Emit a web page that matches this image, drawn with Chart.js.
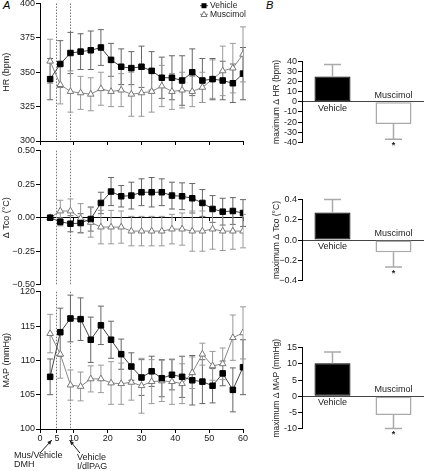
<!DOCTYPE html>
<html>
<head>
<meta charset="utf-8">
<script src="https://cdn.jsdelivr.net/npm/chart.js@4/dist/chart.umd.min.js"></script>
<style>
body { margin:0; background:#fff; width:424px; height:471px; position:relative; overflow:hidden; font-family:"Liberation Sans", Arial, sans-serif; }
canvas { position:absolute; }
.panel { position:absolute; font-style:italic; font-size:11px; color:#000; }
</style>
</head>
<body>
<div class="panel" style="left:3px;top:-1px">A</div>
<div class="panel" style="left:266px;top:-1px">B</div>
<canvas id="hr" width="250" height="154" style="left:0;top:-4px"></canvas>
<canvas id="tco" width="250" height="151" style="left:0;top:144px"></canvas>
<canvas id="map" width="250" height="186" style="left:0;top:285px"></canvas>
<canvas id="hrBar" width="154" height="98" style="left:270px;top:55px"></canvas>
<canvas id="tcoBar" width="154" height="97" style="left:270px;top:193px"></canvas>
<canvas id="mapBar" width="154" height="115" style="left:270px;top:330px"></canvas>
<script>
// ---- data ----
const times = [3,6,9,12,15,18,21,24,27,30,33,36,39,42,45,48,51,54,57,60];
const injectionTimes = [4.8, 9];
const mapXTicks = [0,5,10,20,30,40,50,60];
const hrYTicks  = [300,325,350,375,400];
const tcoYTicks = [-0.5,-0.25,0,0.25,0.5];
const mapYTicks = [100,105,110,115,120];

const hrVehicle     = [345,356,364,365,366,368,359,354,353,354,351,346,346,344,350,344,345,344,342,349];
const hrVehicleErr  = [15,17,15,13,14,13,12,13,12,15,14,15,16,18,17,16,15,14,14,19];
const hrMuscimol    = [358,341,336,335,334,338,336,337,334,335,336,340,336,337,336,339,345,351,353,363];
const hrMuscimolErr = [16,14,15,12,12,12,11,12,16,17,15,15,13,13,11,11,14,18,18,20];

const tcoVehicle     = [0,-0.03,-0.045,-0.04,-0.01,0.11,0.195,0.16,0.165,0.19,0.19,0.19,0.165,0.16,0.145,0.11,0.065,0.045,0.05,0.035];
const tcoVehicleErr  = [0,0.03,0.06,0.07,0.09,0.08,0.105,0.08,0.1,0.1,0.11,0.1,0.1,0.1,0.11,0.1,0.1,0.1,0.1,0.1];
const tcoMuscimol    = [0,0.05,0.05,-0.005,-0.035,-0.07,-0.07,-0.07,-0.1,-0.1,-0.1,-0.1,-0.085,-0.085,-0.1,-0.1,-0.085,-0.1,-0.1,-0.1];
const tcoMuscimolErr = [0,0.08,0.09,0.11,0.11,0.125,0.125,0.12,0.11,0.11,0.11,0.11,0.11,0.12,0.15,0.15,0.15,0.145,0.135,0.125];

const mapVehicle     = [107.6,114.1,116.1,116.0,113.0,115.1,113.0,110.9,109.1,107.5,108.4,107.4,107.9,107.6,107.1,106.9,106.3,108.1,105.7,109.0];
const mapVehicleErr  = [2.6,3.5,3.4,3.1,3.3,2.8,2.7,2.2,2.0,2.6,2.2,2.7,2.2,3.0,3.6,3.2,2.5,1.8,3.2,4.0];
const mapMuscimol    = [113.9,110.9,106.4,106.2,107.3,107.3,106.7,106.6,106.8,106.3,106.9,107.0,106.9,106.6,108.2,110.9,109.2,109.5,113.3,114.0];
const mapMuscimolErr = [2.8,3.5,2.2,2.1,1.9,2.0,3.1,3.0,2.6,4.0,3.2,3.0,3.3,2.9,2.3,1.6,2.1,2.3,3.3,3.8];

const barGroups = ['Vehicle','Muscimol'];
const hrMax  = [25,-22];     const hrMaxErr  = [12,15];
const tcoMax = [0.27,-0.12]; const tcoMaxErr = [0.13,0.145];
const mapMax = [10.2,-5.8];  const mapMaxErr = [3.5,4.1];
const hrBarTicks  = [-40,-30,-20,-10,0,10,20,30,40];
const tcoBarTicks = [-0.4,-0.2,0,0.2,0.4];
const mapBarTicks = [-10,-5,0,5,10,15];

// ---- helpers ----
const FONT = { family: '"Liberation Sans", Arial, sans-serif', size: 9 };
const TITLE_B = { family: FONT.family, size: 8.5 };
Chart.defaults.font.family = FONT.family;
Chart.defaults.color = '#222';

const fixedTicks = list => s => { s.ticks = list.map(v => ({ value: v })); };

const errorBars = {
  id: 'errorBars',
  beforeDatasetsDraw(chart) {
    const { ctx, scales: { x, y } } = chart;
    chart.data.datasets.forEach(ds => {
      if (!ds.err) return;
      ctx.save();
      ctx.strokeStyle = ds.errColor;
      ctx.lineWidth = 1;
      ds.data.forEach((p, i) => {
        const e = ds.err[i];
        if (!e) return;
        const px = x.getPixelForValue(p.x);
        const y1 = y.getPixelForValue(p.y + e), y2 = y.getPixelForValue(p.y - e);
        ctx.beginPath();
        ctx.moveTo(px, y1); ctx.lineTo(px, y2);
        ctx.moveTo(px - 3, y1); ctx.lineTo(px + 3, y1);
        ctx.moveTo(px - 3, y2); ctx.lineTo(px + 3, y2);
        ctx.stroke();
      });
      ctx.restore();
    });
  }
};

const dottedLines = {
  id: 'dottedLines',
  beforeDatasetsDraw(chart) {
    const { ctx, chartArea: a, scales: { x } } = chart;
    ctx.save();
    ctx.strokeStyle = '#777';
    ctx.lineWidth = 1;
    ctx.setLineDash([1.5, 1.5]);
    injectionTimes.forEach(t => {
      const px = Math.round(x.getPixelForValue(t)) + 0.5;
      ctx.beginPath(); ctx.moveTo(px, a.top); ctx.lineTo(px, a.bottom); ctx.stroke();
    });
    ctx.restore();
  }
};

function lineChart(id, c) {
  return new Chart(document.getElementById(id), {
    type: 'line',
    data: {
      datasets: [
        { label: 'Vehicle', data: times.map((t, i) => ({ x: t, y: c.veh[i] })), err: c.vehErr, errColor: '#666',
          borderColor: '#444', borderWidth: 1, pointStyle: 'rect', pointRadius: 3.9,
          pointBackgroundColor: '#000', pointBorderColor: '#000', pointBorderWidth: 1 },
        { label: 'Muscimol', data: times.map((t, i) => ({ x: t, y: c.mus[i] })), err: c.musErr, errColor: '#999',
          borderColor: '#888', borderWidth: 1, pointStyle: 'triangle', pointRadius: 3.8,
          pointBackgroundColor: '#fff', pointBorderColor: '#777', pointBorderWidth: 1 }
      ]
    },
    options: {
      responsive: false, animation: false,
      layout: { padding: { top: c.padTop, bottom: c.padBottom || 0, right: 7, left: 0 } },
      plugins: { legend: { display: false }, tooltip: { enabled: false } },
      scales: {
        x: {
          type: 'linear', min: 0, max: 60, position: c.xPos || 'bottom',
          grid: { drawOnChartArea: false, tickLength: c.xTick || 4, color: '#000' },
          border: { color: '#000' },
          ticks: { display: !!c.xLabels, stepSize: 10, padding: 0, font: FONT, color: '#222', maxRotation: 0, autoSkip: false },
          afterBuildTicks: c.xLabels ? fixedTicks(mapXTicks) : undefined,
          afterFit: s => { if (c.xH != null) s.height = c.xH; }
        },
        y: {
          min: c.min, max: c.max,
          grid: { drawOnChartArea: false, tickLength: 4, color: '#000' },
          border: { color: '#000' },
          ticks: { padding: 1, font: FONT, color: '#222', callback: c.fmt || (v => String(v)), autoSkip: false },
          afterBuildTicks: fixedTicks(c.yTicks),
          title: { display: true, text: c.title, font: FONT, color: '#222', padding: { top: 1, bottom: 0 } },
          afterFit: s => { s.width = 40; }
        }
      }
    },
    plugins: [dottedLines, errorBars].concat(c.extra || [])
  });
}

const legendPlugin = {
  id: 'legendA',
  afterDraw(chart) {
    const ctx = chart.ctx;
    ctx.save();
    ctx.font = '8.5px ' + FONT.family;
    ctx.textBaseline = 'middle';
    // Vehicle
    let y = 9.7;
    ctx.strokeStyle = '#444'; ctx.lineWidth = 1;
    ctx.beginPath(); ctx.moveTo(200, y); ctx.lineTo(208, y); ctx.stroke();
    ctx.fillStyle = '#000'; ctx.fillRect(201.5, y - 2.5, 5, 5);
    ctx.fillStyle = '#222'; ctx.fillText('Vehicle', 210, y);
    // Muscimol
    y = 18.3;
    ctx.strokeStyle = '#888';
    ctx.beginPath(); ctx.moveTo(200, y); ctx.lineTo(208, y); ctx.stroke();
    ctx.fillStyle = '#fff'; ctx.strokeStyle = '#777';
    ctx.beginPath(); ctx.moveTo(204, y - 3); ctx.lineTo(207, y + 2.2); ctx.lineTo(201, y + 2.2); ctx.closePath();
    ctx.fill(); ctx.stroke();
    ctx.fillStyle = '#222'; ctx.fillText('Muscimol', 210, y);
    ctx.restore();
  }
};

const annotations = {
  id: 'annotations',
  afterDraw(chart) {
    const { ctx, scales: { x } } = chart;
    ctx.save();
    ctx.strokeStyle = '#222'; ctx.fillStyle = '#222'; ctx.lineWidth = 1;
    const arrow = (x1, y1, x2, y2) => {
      ctx.beginPath(); ctx.moveTo(x1, y1); ctx.lineTo(x2, y2); ctx.stroke();
      const ang = Math.atan2(y2 - y1, x2 - x1);
      ctx.beginPath();
      ctx.moveTo(x2, y2);
      ctx.lineTo(x2 - 5 * Math.cos(ang - 0.4), y2 - 5 * Math.sin(ang - 0.4));
      ctx.lineTo(x2 - 5 * Math.cos(ang + 0.4), y2 - 5 * Math.sin(ang + 0.4));
      ctx.closePath(); ctx.fill();
    };
    arrow(x.getPixelForValue(0), 168, x.getPixelForValue(3.5), 155);
    arrow(x.getPixelForValue(11.8), 168, x.getPixelForValue(8.8), 155.5);
    ctx.font = '9px ' + FONT.family;
    ctx.textBaseline = 'middle';
    ctx.fillText('Mus/Vehicle', 14, 171);
    ctx.fillText('DMH', 14, 179.5);
    ctx.fillText('Vehicle', 77, 173);
    ctx.fillText('I/dlPAG', 77, 182);
    ctx.restore();
  }
};

lineChart('hr', { veh: hrVehicle, vehErr: hrVehicleErr, mus: hrMuscimol, musErr: hrMuscimolErr,
  min: 300, max: 400, yTicks: hrYTicks, title: 'HR (bpm)', padTop: 7.5, xH: 9, extra: [legendPlugin] });

lineChart('tco', { veh: tcoVehicle, vehErr: tcoVehicleErr, mus: tcoMuscimol, musErr: tcoMuscimolErr,
  min: -0.5, max: 0.5, yTicks: tcoYTicks, title: 'Δ Tco (°C)', padTop: 6.7, padBottom: 10.3,
  xPos: { y: 0 }, xTick: 3,
  fmt: v => (v < 0 ? '\u2212' : '') + Math.abs(v).toFixed(2) });

lineChart('map', { veh: mapVehicle, vehErr: mapVehicleErr, mus: mapMuscimol, musErr: mapMuscimolErr,
  min: 100, max: 120, yTicks: mapYTicks, title: 'MAP (mmHg)', padTop: 6.7, xH: 42, xLabels: true, extra: [annotations] });

// ---- B: maximum change bars ----
const barExtras = {
  id: 'barExtras',
  afterDatasetsDraw(chart) {
    const { ctx, scales: { x, y } } = chart;
    const ds = chart.data.datasets[0];
    const y0 = y.getPixelForValue(0);
    ctx.save();
    chart.data.labels.forEach((lab, i) => {
      const v = ds.data[i], e = ds.err[i];
      const px = x.getPixelForValue(i);
      const ye = y.getPixelForValue(v >= 0 ? v + e : v - e);
      const yb = y.getPixelForValue(v);
      ctx.strokeStyle = '#aaa'; ctx.lineWidth = 1.5;
      ctx.beginPath();
      ctx.moveTo(px, yb); ctx.lineTo(px, ye);
      ctx.moveTo(px - 8.5, ye); ctx.lineTo(px + 8.5, ye);
      ctx.stroke();
      ctx.fillStyle = '#222';
      ctx.font = '9px ' + FONT.family;
      ctx.textAlign = 'center'; ctx.textBaseline = 'middle';
      ctx.fillText(lab, px, v >= 0 ? y0 + 6.5 : y0 - 6.5);
      if (v < 0) {
        ctx.font = 'bold 9px ' + FONT.family;
        ctx.textBaseline = 'top';
        ctx.fillText('*', px, ye + 2);
      }
    });
    ctx.restore();
  }
};

function barChart(id, c) {
  return new Chart(document.getElementById(id), {
    type: 'bar',
    data: {
      labels: barGroups,
      datasets: [{ data: c.vals, err: c.errs,
        backgroundColor: ['#000', '#fff'], borderColor: ['#000', '#aaa'], borderWidth: [1, 1.5],
        borderSkipped: false, barPercentage: 0.59, categoryPercentage: 1 }]
    },
    options: {
      responsive: false, animation: false,
      layout: { padding: { top: c.padTop, bottom: c.padBottom, left: 0, right: 0 } },
      plugins: { legend: { display: false }, tooltip: { enabled: false } },
      scales: {
        x: { position: { y: 0 }, grid: { display: false }, border: { color: '#444' }, ticks: { display: false } },
        y: {
          min: c.min, max: c.max,
          grid: { drawOnChartArea: false, tickLength: 4, color: '#000' },
          border: { color: '#000' },
          ticks: { padding: 1, font: FONT, color: '#222', callback: c.fmt || (v => String(v)), autoSkip: false },
          afterBuildTicks: fixedTicks(c.ticks),
          title: { display: true, text: c.title, font: TITLE_B, color: '#222', padding: { top: 2, bottom: 0 } },
          afterFit: s => { s.width = 32; }
        }
      }
    },
    plugins: [barExtras]
  });
}

barChart('hrBar', { vals: hrMax, errs: hrMaxErr, min: -40, max: 40, ticks: hrBarTicks,
  title: 'maximum Δ HR (bpm)', padTop: 6.3, padBottom: 10.7 });
barChart('tcoBar', { vals: tcoMax, errs: tcoMaxErr, min: -0.4, max: 0.4, ticks: tcoBarTicks,
  title: 'maximum Δ Tco (°C)', padTop: 6.3, padBottom: 9.3,
  fmt: v => (v < 0 ? '\u2212' : '') + Math.abs(v).toFixed(1) });
barChart('mapBar', { vals: mapMax, errs: mapMaxErr, min: -10, max: 15, ticks: mapBarTicks,
  title: 'maximum Δ MAP (mmHg)', padTop: 17.7, padBottom: 16.3 });
</script>
</body>
</html>
